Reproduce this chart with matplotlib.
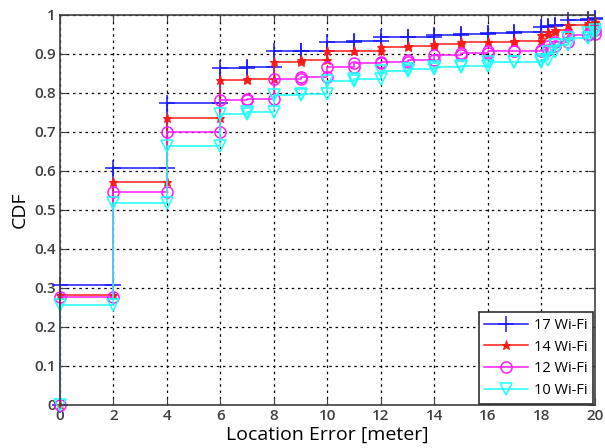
import numpy as np
import matplotlib
matplotlib.use('Agg')
import matplotlib.pyplot as plt

# step locations (x) and CDF level reached at each step
steps = [0, 2, 4, 6, 7, 8, 9, 10, 11, 12, 13, 14, 15, 16, 17, 18, 18.25, 18.5, 19, 19.75, 20]
cdf17 = [0.308, 0.607, 0.775, 0.863, 0.865, 0.906, 0.908, 0.930, 0.934, 0.943, 0.944,
         0.949, 0.951, 0.953, 0.955, 0.968, 0.972, 0.975, 0.986, 0.988, 0.992]
cdf14 = [0.282, 0.572, 0.736, 0.833, 0.835, 0.880, 0.885, 0.906, 0.908, 0.917, 0.921,
         0.926, 0.929, 0.930, 0.933, 0.949, 0.955, 0.962, 0.973, 0.979, 0.982]
cdf12 = [0.277, 0.546, 0.700, 0.782, 0.784, 0.835, 0.840, 0.867, 0.876, 0.880, 0.885,
         0.897, 0.902, 0.906, 0.906, 0.910, 0.920, 0.930, 0.949, 0.951, 0.960]
cdf10 = [0.255, 0.517, 0.665, 0.745, 0.752, 0.795, 0.797, 0.830, 0.835, 0.855, 0.860,
         0.865, 0.870, 0.878, 0.880, 0.885, 0.905, 0.923, 0.940, 0.953, 0.960]
labels = ['17 Wi-Fi', '14 Wi-Fi', '12 Wi-Fi', '10 Wi-Fi']


def stair(x, y):
    # vertices of the staircase, starting at (0, 0)
    xs = np.repeat(x, 2)
    ys = np.concatenate([[0], np.repeat(y, 2)[:-1]])
    return xs, ys


fig = plt.figure(figsize=(6.05, 4.48), dpi=100)
ax = fig.add_axes([0.099, 0.096, 0.884, 0.871])

styles = [dict(color=(0.1, 0.1, 1), marker='+', ms=11, mew=1.1),
          dict(color=(1, 0.1, 0.1), marker='*', ms=6.5, mew=0.8),
          dict(color=(1, 0.1, 1), marker='o', ms=8, mew=1.1, mfc='none'),
          dict(color=(0.1, 1, 1), marker='v', ms=9, mew=1.1, mfc='none')]

for y, lab, st in zip([cdf17, cdf14, cdf12, cdf10], labels, styles):
    xs, ys = stair(steps, y)
    ax.plot(xs, ys, lw=1.1, label=lab, clip_on=False, **st)

ax.set_xlim(0, 20)
ax.set_ylim(0, 1)
ax.set_xticks(np.arange(0, 21, 2))
ax.set_yticks(np.arange(0, 1.01, 0.1))
ax.set_yticklabels(['0'] + ['%.1f' % v for v in np.arange(0.1, 0.95, 0.1)] + ['1'])
ax.grid(True, color='black', linestyle=(0, (2, 3)), lw=0.9)
ax.set_axisbelow(True)
for s in ax.spines.values():
    s.set_color('#404040')
    s.set_linewidth(1.2)
ax.tick_params(direction='in', length=5, colors='#404040', labelsize=11,
               top=True, right=True, pad=3)
for t in ax.get_xticklabels() + ax.get_yticklabels():
    t.set_fontfamily('Open Sans')
    t.set_fontweight('semibold')

ax.set_xlabel('Location Error [meter]', fontsize=14, family='Open Sans', labelpad=2)
ax.set_ylabel('CDF', fontsize=14, family='Open Sans', labelpad=4)

leg = ax.legend(loc='lower right', fancybox=False, framealpha=1,
                edgecolor='#303030', handlelength=3.0, borderaxespad=0.1,
                handletextpad=0.4, labelspacing=0.45,
                prop={'family': 'Open Sans', 'size': 10.5})
leg.get_frame().set_linewidth(1.2)

fig.savefig('out.png', dpi=100)
